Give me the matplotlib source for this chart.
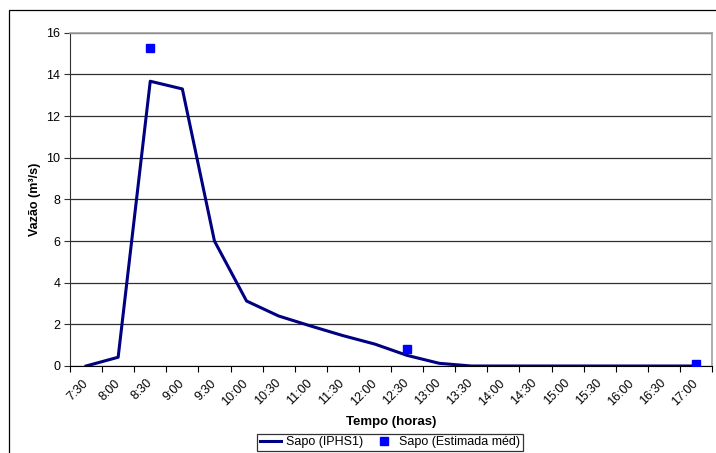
import matplotlib
matplotlib.use("Agg")
import matplotlib.pyplot as plt
from matplotlib.patches import Rectangle
import numpy as np

plt.rcParams['font.family'] = ['Liberation Sans', 'DejaVu Sans']

categories = ["7:30", "8:00", "8:30", "9:00", "9:30", "10:00", "10:30", "11:00",
              "11:30", "12:00", "12:30", "13:00", "13:30", "14:00", "14:30",
              "15:00", "15:30", "16:00", "16:30", "17:00"]
iphs1 = [0.0, 0.42, 13.67, 13.3, 6.0, 3.12, 2.4, 1.92, 1.46, 1.05, 0.51, 0.13,
         0.0, 0.0, 0.0, 0.0, 0.0, 0.0, 0.0, 0.0]
est_cats = ["8:30", "12:30", "17:00"]
est_vals = [15.27, 0.82, 0.08]

W, H = 716, 453
FS = 9
fig = plt.figure(figsize=(W / 100, H / 100), dpi=100)
fig.patch.set_facecolor('white')

# outer chart border
fig.patches.append(Rectangle((9 / W, -0.05), 1.0, 1 - 10 / H + 0.05,
                             transform=fig.transFigure, fill=False,
                             edgecolor='black', linewidth=0.9))

ax = fig.add_axes([70 / W, 1 - 366 / H, (712 - 70) / W, (366 - 32.7) / H])

x = np.arange(len(categories))
ax.plot(x, iphs1, color='#000080', linewidth=2.2, label='Sapo (IPHS1)', zorder=3)
ex = [categories.index(c) for c in est_cats]
ax.plot(ex, est_vals, linestyle='none', marker='s', markersize=5.8,
        color='#0000FF', label='Sapo (Estimada méd)', zorder=4)

ax.set_xlim(-0.5, len(categories) - 0.5)
ax.set_ylim(0, 16)
ax.set_yticks(np.arange(0, 17, 2))
ax.yaxis.grid(True, color='#303030', linewidth=0.9)
ax.set_axisbelow(True)

ax.set_xticks(x)
ax.set_xticklabels(categories, rotation=45, ha='right', va='center',
                   rotation_mode='anchor', fontsize=FS)
ax.set_xticks(np.arange(-0.5, len(categories), 1), minor=True)
ax.tick_params(axis='x', which='major', length=0, pad=11)
ax.tick_params(axis='x', which='minor', length=4.5, width=0.8, color='black')
ax.tick_params(axis='y', length=4.5, width=0.8, pad=2.5, labelsize=FS, color='#303030')

for s in ['top', 'right']:
    ax.spines[s].set_color('#a0a0a0')
    ax.spines[s].set_linewidth(1.2)
ax.spines['left'].set_color('#303030')
ax.spines['bottom'].set_color('black')

ax.set_ylabel('Vazão (m³/s)', fontsize=FS, fontweight='bold', labelpad=4)
fig.text(391 / W, 1 - 422 / H, 'Tempo (horas)', ha='center', va='center',
         fontsize=FS + 0.5, fontweight='bold')

leg = fig.legend(loc='center', bbox_to_anchor=(390 / W, 1 - 442.5 / H), ncol=2,
                 fontsize=FS, frameon=True, fancybox=False, edgecolor='black',
                 handlelength=1.7, handletextpad=0.4, columnspacing=0.8,
                 borderpad=0.2, borderaxespad=0)
leg.get_frame().set_linewidth(0.9)

fig.savefig('out.png', dpi=100, facecolor='white')
